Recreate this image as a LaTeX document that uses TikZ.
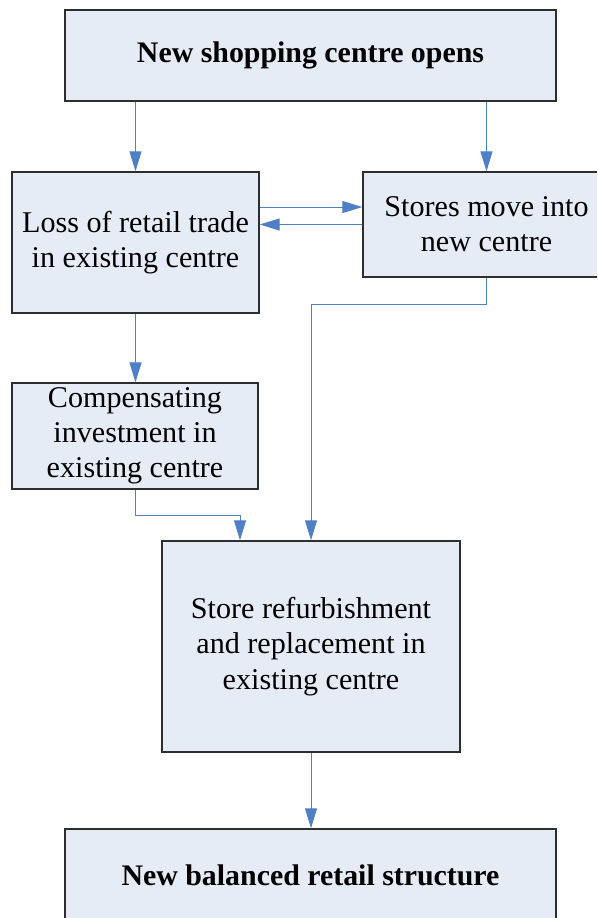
\documentclass[tikz,border=0pt]{standalone}
\usepackage{fontspec}
\setmainfont{Liberation Serif}
\usetikzlibrary{arrows.meta}
\definecolor{boxfill}{HTML}{E6ECF6}
\definecolor{boxline}{HTML}{2E2E2E}
\definecolor{arr}{HTML}{4F7FC6}
\begin{document}
\begin{tikzpicture}[x=0.75pt,y=-0.75pt,
  box/.style={draw=boxline, fill=boxfill, line width=1pt, align=center,
    inner sep=0pt, font=\fontsize{22.6}{26.4}\selectfont},
  bbox/.style={box, font=\fontsize{22.4}{26.4}\selectfont\bfseries},
  conn/.style={draw=arr, line width=0.75pt, -{Triangle[length=15pt,width=9pt]}}]
\useasboundingbox (0,0) rectangle (597,918);
\clip (0,0) rectangle (597,918);
\node[bbox, minimum width={491*0.75pt}, minimum height={91*0.75pt}] (open) at (310.5,55.5) {New shopping centre opens};
\node[box, minimum width={247*0.75pt}, minimum height={141*0.75pt}] (loss) at (135.5,242.5) {Loss of retail trade\\in existing centre};
\node[box, minimum width={247*0.75pt}, minimum height={105*0.75pt}] (stores) at (486.5,224.5) {Stores move into\\new centre};
\node[box, minimum width={246*0.75pt}, minimum height={106*0.75pt}] (comp) at (135,436) {Compensating\\investment in\\existing centre};
\node[box, minimum width={298*0.75pt}, minimum height={211*0.75pt}] (refurb) at (311,646.5) {Store refurbishment\\and replacement in\\existing centre};
\node[bbox, minimum width={491*0.75pt}, minimum height={92*0.75pt}] (final) at (310.5,875) {New balanced retail structure};
\draw[conn] (open.south -| loss.north) -- (loss.north);
\draw[conn] (open.south -| stores.north) -- (stores.north);
\draw[conn] ([yshift=26.6pt]loss.east) -- ([yshift=26.6pt]loss.east -| stores.west);
\draw[conn] (stores.west) -- (stores.west -| loss.east);
\draw[conn] (loss.south) -- (loss.south |- comp.north);
\draw[conn] (stores.south) -- ++(0,27) -| (refurb.north);
\draw[conn] (comp.south) -- ++(0,26) -| ([xshift=-53.25pt]refurb.north);
\draw[conn] (refurb.south) -- (refurb.south |- final.north);
\end{tikzpicture}
\end{document}
